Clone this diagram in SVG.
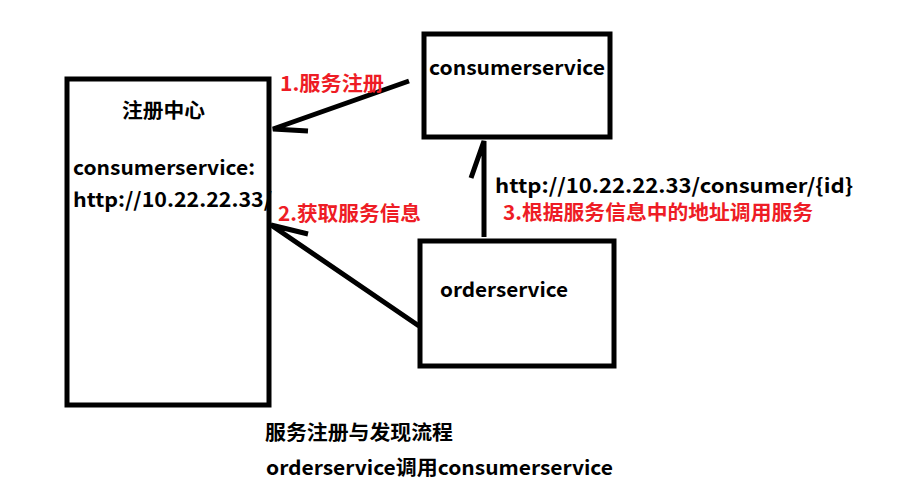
<svg xmlns="http://www.w3.org/2000/svg" width="922" height="501" viewBox="0 0 922 501">
<style>
.box{fill:none;stroke:#000;stroke-width:5}
.ln{fill:none;stroke:#000;stroke-width:5;stroke-linecap:butt}
.t{font-family:"Noto Sans CJK SC","Noto Sans",sans-serif;font-weight:bold;font-size:20px;fill:#000}
.r{fill:#ee1c25}
</style>
<rect x="0" y="0" width="922" height="501" fill="#fff"/>
<g id="registry">
<rect class="box" x="67" y="79" width="202" height="326"/>
<text class="t" x="122" y="118" textLength="83" lengthAdjust="spacingAndGlyphs">注册中心</text>
<text class="t" x="73" y="175" textLength="182" lengthAdjust="spacingAndGlyphs">consumerservice:</text>
<text class="t" x="73" y="207" textLength="199" lengthAdjust="spacingAndGlyphs">http://10.22.22.33/</text>
</g>
<g id="consumerservice">
<rect class="box" x="424" y="34" width="186" height="103"/>
<text class="t" x="429" y="75" textLength="176" lengthAdjust="spacingAndGlyphs">consumerservice</text>
</g>
<g id="orderservice">
<rect class="box" x="420" y="241" width="194" height="125"/>
<text class="t" x="440" y="297" textLength="128" lengthAdjust="spacingAndGlyphs">orderservice</text>
</g>
<g id="connectors">
<path class="ln" d="M409,81 L273,129 L308,131"/>
<path class="ln" d="M419,326 L271,225 L308,234"/>
<path class="ln" d="M484,237 L484,141 L471,178"/>
</g>
<g id="labels">
<text class="t r" x="280" y="91" textLength="104" lengthAdjust="spacingAndGlyphs">1.服务注册</text>
<text class="t r" x="278" y="221" textLength="143" lengthAdjust="spacingAndGlyphs">2.获取服务信息</text>
<text class="t" x="495" y="193" textLength="358" lengthAdjust="spacingAndGlyphs">http://10.22.22.33/consumer/{id}</text>
<text class="t r" x="503" y="220" textLength="310" lengthAdjust="spacingAndGlyphs">3.根据服务信息中的地址调用服务</text>
<text class="t" x="265" y="440" textLength="188" lengthAdjust="spacingAndGlyphs">服务注册与发现流程</text>
<text class="t" x="266" y="475" textLength="347" lengthAdjust="spacingAndGlyphs">orderservice调用consumerservice</text>
</g>
</svg>
